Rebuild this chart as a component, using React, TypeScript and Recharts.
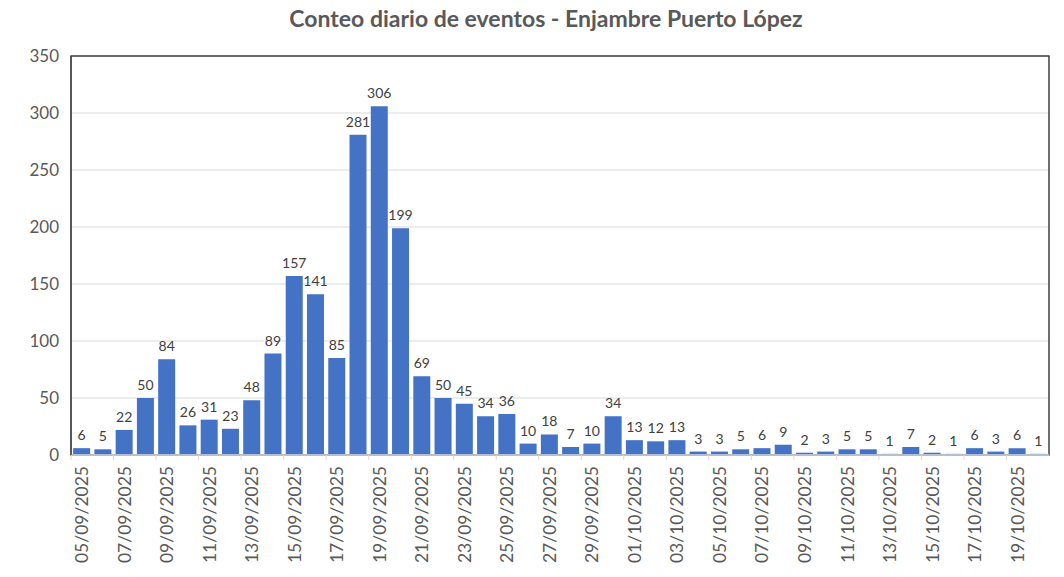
import { BarChart, Bar, XAxis, YAxis, CartesianGrid, LabelList, ReferenceArea, ReferenceLine } from "recharts";

const fechas = [
  "05/09/2025", "06/09/2025", "07/09/2025", "08/09/2025", "09/09/2025", "10/09/2025",
  "11/09/2025", "12/09/2025", "13/09/2025", "14/09/2025", "15/09/2025", "16/09/2025",
  "17/09/2025", "18/09/2025", "19/09/2025", "20/09/2025", "21/09/2025", "22/09/2025",
  "23/09/2025", "24/09/2025", "25/09/2025", "26/09/2025", "27/09/2025", "28/09/2025",
  "29/09/2025", "30/09/2025", "01/10/2025", "02/10/2025", "03/10/2025", "04/10/2025",
  "05/10/2025", "06/10/2025", "07/10/2025", "08/10/2025", "09/10/2025", "10/10/2025",
  "11/10/2025", "12/10/2025", "13/10/2025", "14/10/2025", "15/10/2025", "16/10/2025",
  "17/10/2025", "18/10/2025", "19/10/2025", "20/10/2025",
];

const eventos = [
  6, 5, 22, 50, 84, 26, 31, 23, 48, 89, 157, 141, 85, 281, 306, 199, 69, 50, 45, 34, 36,
  10, 18, 7, 10, 34, 13, 12, 13, 3, 3, 5, 6, 9, 2, 3, 5, 5, 1, 7, 2, 1, 6, 3, 6, 1,
];

const ticksY = [0, 50, 100, 150, 200, 250, 300, 350];

const ANCHO = 1064;
const ALTO = 577;
const MARGEN = { top: 56, right: 15, left: 11, bottom: 0 };
const ANCHO_EJE_Y = 60;
const FUENTE = "Lato, 'Open Sans', sans-serif";
const GRIS = "#595959";

const datos = fechas.map((fecha, i) => ({ fecha, eventos: eventos[i] }));
const anchoBanda = (ANCHO - MARGEN.left - MARGEN.right - ANCHO_EJE_Y) / datos.length;

const TickFecha = ({ x, y, payload }: { x?: number; y?: number; payload?: { value: string } }) => {
  const px = x ?? 0;
  const py = y ?? 0;
  return (
    <g>
      <line x1={px - anchoBanda / 2} x2={px - anchoBanda / 2} y1={py - 11} y2={py - 6} stroke="#d9d9d9" />
      <text
        transform={`translate(${px},${py}) rotate(-90)`}
        textAnchor="end"
        dominantBaseline="central"
        fontSize={17.5}
        fontFamily={FUENTE}
        fill={GRIS}
      >
        {payload?.value}
      </text>
    </g>
  );
};

export default function App() {
  return (
    <div style={{ position: "absolute", left: 0, top: 0, width: ANCHO, height: ALTO, background: "#fff" }}>
      <div
        style={{
          position: "absolute",
          left: 0,
          top: 4,
          width: 1092,
          textAlign: "center",
          fontFamily: FUENTE,
          fontWeight: 700,
          fontSize: 23,
          color: GRIS,
        }}
      >
        Conteo diario de eventos - Enjambre Puerto López
      </div>
      <BarChart width={ANCHO} height={ALTO} data={datos} margin={MARGEN} barCategoryGap="10%">
        <CartesianGrid vertical={false} stroke="#d9d9d9" />
        <XAxis
          dataKey="fecha"
          interval={1}
          height={122}
          tickLine={false}
          tickSize={5}
          tickMargin={6}
          axisLine={{ stroke: "#d9d9d9" }}
          tick={<TickFecha />}
        />
        <YAxis
          domain={[0, 350]}
          ticks={ticksY}
          width={ANCHO_EJE_Y}
          tickLine={false}
          axisLine={{ stroke: "#404040" }}
          tickMargin={6}
          tick={{ fontSize: 17, fill: GRIS, fontFamily: FUENTE }}
        />
        <ReferenceArea y1={0} y2={350} fill="none" stroke="#404040" strokeWidth={1.5} ifOverflow="visible" />
        <ReferenceLine y={0} stroke="#d9d9d9" />
        <Bar dataKey="eventos" fill="#4472C4" isAnimationActive={false}>
          <LabelList dataKey="eventos" position="top" offset={8} fontSize={14} fill="#404040" fontFamily={FUENTE} />
        </Bar>
      </BarChart>
    </div>
  );
}
